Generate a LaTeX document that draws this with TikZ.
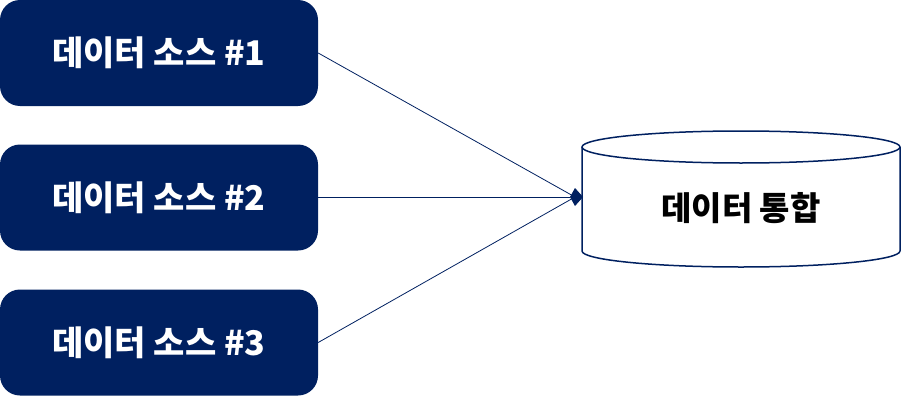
\documentclass[tikz,border=0pt]{standalone}
\usepackage{fontspec}
\newfontfamily\kr{Noto Sans CJK KR}
\usetikzlibrary{arrows.meta}
\definecolor{navy}{HTML}{002060}
\tikzset{
  srcbox/.style={fill=navy, draw=none, rounded corners=20pt, minimum width=318pt, minimum height=106pt, inner sep=0pt, text=white, font=\kr\bfseries\fontsize{34}{38}\selectfont},
  dbtext/.style={text=black, inner sep=0pt, font=\kr\bfseries\fontsize{33}{38}\selectfont},
  link/.style={draw=navy, line width=0.8pt},
  headlink/.style={link, -{Kite[length=13pt,width=18pt,inset=5pt,fill=navy]}},
  dbline/.style={draw=navy, line width=1.5pt}
}
\begin{document}
\begin{tikzpicture}[x=1pt,y=1pt]
\useasboundingbox (0,0) rectangle (901,-396);
\node[srcbox] (s1) at (159,-53) {데이터 소스 \#1};
\node[srcbox] (s2) at (159,-197.5) {데이터 소스 \#2};
\node[srcbox] (s3) at (159,-342.5) {데이터 소스 \#3};
% cylinder
\fill[white] (582,-147) -- (582,-251) arc[start angle=180,end angle=360,x radius=159,y radius=16] -- (900,-147) arc[start angle=0,end angle=180,x radius=159,y radius=16] -- cycle;
\draw[dbline] (582,-147) -- (582,-251) arc[start angle=180,end angle=360,x radius=159,y radius=16] -- (900,-147);
\draw[dbline] (741,-147) ellipse[x radius=159,y radius=16];
\coordinate (dbw) at (583,-197);
\coordinate (meet) at (575,-197);
\node[dbtext] (db) at (741,-208) {데이터 통합};
\draw[link] (s1.east) -- (meet);
\draw[link] (s3.east) -- (meet);
\draw[headlink] (s2.east |- dbw) -- (dbw);
\end{tikzpicture}
\end{document}
